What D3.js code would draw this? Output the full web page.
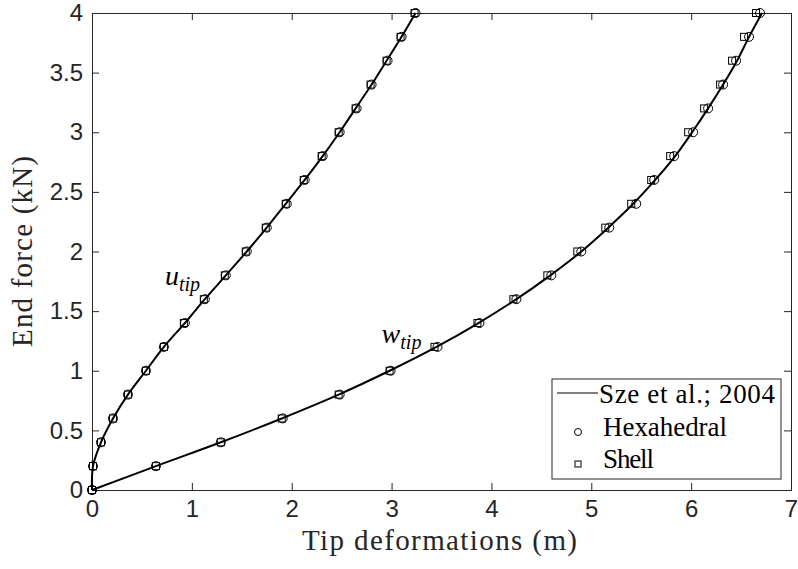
<!DOCTYPE html>
<html>
<head>
<meta charset="utf-8">
<script src="https://cdn.jsdelivr.net/npm/d3@7"></script>
<style>
  body { margin: 0; background: #fff; }
  svg { display: block; }
</style>
</head>
<body>
<div id="chart"></div>
<script>
// Load steps (kN) shared by all series
const loads = [0, 0.2, 0.4, 0.6, 0.8, 1.0, 1.2, 1.4, 1.6, 1.8, 2.0,
  2.2, 2.4, 2.6, 2.8, 3.0, 3.2, 3.4, 3.6, 3.8, 4.0];

// Sze et al. 2004 reference curves
const szeU = [0, 0.01, 0.09, 0.21, 0.36, 0.54, 0.72, 0.93, 1.13, 1.34, 1.55,
  1.75, 1.94, 2.13, 2.31, 2.48, 2.64, 2.80, 2.95, 3.10, 3.24];
const szeW = [0, 0.64, 1.29, 1.90, 2.47, 2.98, 3.45, 3.87, 4.25, 4.59, 4.90,
  5.17, 5.42, 5.64, 5.84, 6.01, 6.17, 6.32, 6.46, 6.58, 6.71];

// Hexahedral results
const hexU = [0, 0.01, 0.09, 0.21, 0.36, 0.54, 0.72, 0.93, 1.13, 1.34, 1.55,
  1.75, 1.95, 2.13, 2.31, 2.48, 2.65, 2.80, 2.96, 3.10, 3.24];
const hexW = [0, 0.64, 1.29, 1.91, 2.48, 2.99, 3.46, 3.88, 4.25, 4.60, 4.90,
  5.18, 5.45, 5.63, 5.83, 6.02, 6.17, 6.32, 6.45, 6.58, 6.69];

// Shell results
const shellU = [0, 0.01, 0.09, 0.21, 0.36, 0.54, 0.72, 0.92, 1.12, 1.33, 1.54,
  1.74, 1.94, 2.12, 2.30, 2.47, 2.64, 2.79, 2.95, 3.09, 3.23];
const shellW = [0, 0.64, 1.29, 1.90, 2.47, 2.98, 3.43, 3.86, 4.22, 4.56, 4.86,
  5.14, 5.40, 5.60, 5.79, 5.97, 6.13, 6.29, 6.41, 6.53, 6.65];

const xTicks = [0, 1, 2, 3, 4, 5, 6, 7];
const yTicks = [0, 0.5, 1, 1.5, 2, 2.5, 3, 3.5, 4];

const width = 798;
const height = 569;
const margin = { top: 13, right: 7, bottom: 79, left: 92 };
const innerW = width - margin.left - margin.right;
const innerH = height - margin.top - margin.bottom;

const axisColor = '#262626';
const serif = '"Liberation Serif", "DejaVu Serif", serif';
const sans = '"Liberation Sans", Arial, sans-serif';

const svg = d3
  .select('#chart')
  .append('svg')
  .attr('width', width)
  .attr('height', height);

const g = svg.append('g').attr('transform', `translate(${margin.left},${margin.top})`);

const x = d3.scaleLinear().domain([0, 7]).range([0, innerW]);
const y = d3.scaleLinear().domain([0, 4]).range([innerH, 0]);

// Axes (box with inward ticks on all sides)
const tickLen = 7;
g.append('g')
  .attr('transform', `translate(0,${innerH})`)
  .call(d3.axisBottom(x).tickValues(xTicks).tickSize(-tickLen).tickPadding(10).tickFormat(d3.format('d')));
g.append('g')
  .call(d3.axisTop(x).tickValues(xTicks).tickSize(-tickLen).tickFormat(''));
g.append('g')
  .call(d3.axisLeft(y).tickValues(yTicks).tickSize(-tickLen).tickPadding(9).tickFormat(d => String(d)));
g.append('g')
  .attr('transform', `translate(${innerW},0)`)
  .call(d3.axisRight(y).tickValues(yTicks).tickSize(-tickLen).tickFormat(''));

g.selectAll('.domain').attr('stroke', axisColor).attr('stroke-width', 1);
g.selectAll('.tick line').attr('stroke', axisColor).attr('stroke-width', 1);
g.selectAll('.tick text')
  .attr('fill', axisColor)
  .style('font-family', sans)
  .style('font-size', '24px');

// Reference curves
const line = d3
  .line()
  .x(d => x(d[0]))
  .y(d => y(d[1]))
  .curve(d3.curveCatmullRom.alpha(0.5));

[szeU, szeW].forEach(series => {
  g.append('path')
    .datum(series.map((v, i) => [v, loads[i]]))
    .attr('fill', 'none')
    .attr('stroke', '#000')
    .attr('stroke-width', 2)
    .attr('d', line);
});

// Markers
const marks = g.append('g');
[hexU, hexW].forEach(series => {
  marks.selectAll(null)
    .data(series.map((v, i) => [v, loads[i]]))
    .join('circle')
    .attr('cx', d => x(d[0]))
    .attr('cy', d => y(d[1]))
    .attr('r', 4.5)
    .attr('fill', 'none')
    .attr('stroke', '#000')
    .attr('stroke-width', 1);
});
[shellU, shellW].forEach(series => {
  marks.selectAll(null)
    .data(series.map((v, i) => [v, loads[i]]))
    .join('rect')
    .attr('x', d => x(d[0]) - 3.5)
    .attr('y', d => y(d[1]) - 3.5)
    .attr('width', 7)
    .attr('height', 7)
    .attr('fill', 'none')
    .attr('stroke', '#000')
    .attr('stroke-width', 1);
});

// Curve labels
function curveLabel(base, xv, yv) {
  const t = g.append('text')
    .attr('x', x(xv))
    .attr('y', y(yv))
    .style('font-family', serif)
    .style('font-style', 'italic')
    .style('font-size', '28px')
    .attr('fill', '#000');
  t.append('tspan').text(base);
  t.append('tspan').attr('dy', 6).style('font-size', '20px').text('tip');
}
curveLabel('u', 0.73, 1.72);
curveLabel('w', 2.9, 1.23);

// Axis titles
svg.append('text')
  .attr('x', margin.left + innerW / 2 - 2)
  .attr('y', 550)
  .attr('text-anchor', 'middle')
  .attr('textLength', 275)
  .attr('lengthAdjust', 'spacing')
  .style('font-family', serif)
  .style('font-size', '29px')
  .attr('fill', axisColor)
  .text('Tip deformations (m)');

svg.append('text')
  .attr('transform', `translate(32,${margin.top + innerH / 2}) rotate(-90)`)
  .attr('text-anchor', 'middle')
  .attr('textLength', 191)
  .attr('lengthAdjust', 'spacing')
  .style('font-family', serif)
  .style('font-size', '29px')
  .attr('fill', axisColor)
  .text('End force (kN)');

// Legend
const legend = svg.append('g').attr('transform', 'translate(552,379)');
legend.append('rect')
  .attr('width', 229)
  .attr('height', 100)
  .attr('fill', '#fff')
  .attr('stroke', axisColor)
  .attr('stroke-width', 1);
legend.append('line')
  .attr('x1', 5).attr('x2', 46)
  .attr('y1', 14).attr('y2', 14)
  .attr('stroke', '#000').attr('stroke-width', 1);
legend.append('circle')
  .attr('cx', 26).attr('cy', 53).attr('r', 3.5)
  .attr('fill', 'none').attr('stroke', '#000');
legend.append('rect')
  .attr('x', 23).attr('y', 82).attr('width', 6).attr('height', 6)
  .attr('fill', 'none').attr('stroke', '#000');
const legendLabels = ['Sze et al.; 2004', 'Hexahedral', 'Shell'];
const legendWidths = [176, 124, 51];
legend.selectAll('text.lbl')
  .data(legendLabels)
  .join('text')
  .attr('class', 'lbl')
  .attr('x', (d, i) => (i === 0 ? 47 : 51))
  .attr('y', (d, i) => 24 + i * 32.5)
  .attr('textLength', (d, i) => legendWidths[i])
  .attr('lengthAdjust', 'spacing')
  .style('font-family', serif)
  .style('font-size', '27px')
  .attr('fill', '#000')
  .text(d => d);
</script>
</body>
</html>
